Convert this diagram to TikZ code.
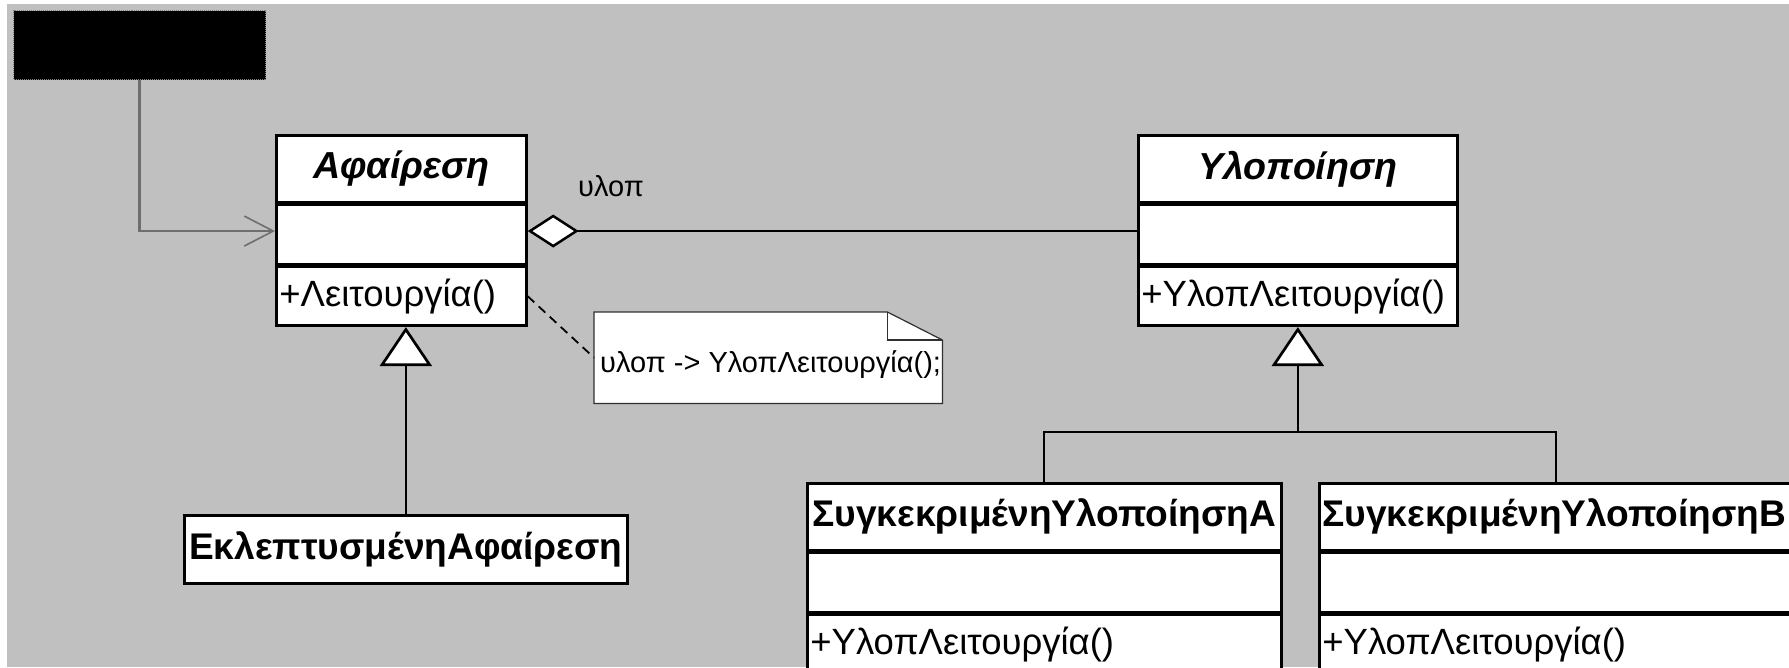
\documentclass[tikz,border=0pt]{standalone}
\usepackage{fontspec}
\setmainfont{Liberation Sans}
\usetikzlibrary{arrows.meta,calc}
\definecolor{canvasgray}{HTML}{C0C0C0}
\definecolor{clientgray}{HTML}{6E6E6E}
\definecolor{notegray}{HTML}{303030}

\tikzset{
  part/.style={draw=black, line width=2.7pt, fill=white, inner xsep=3pt, inner ysep=0pt,
    font=\fontsize{36.5}{43}\selectfont},
  namepart/.style={part, anchor=north west, minimum height=67pt,
    font=\fontsize{37.1}{45}\selectfont\bfseries},
  abstractname/.style={namepart, font=\fontsize{37.6}{45}\selectfont\bfseries\itshape},
  fieldpart/.style={part, anchor=north, minimum height=59pt},
  oppart/.style={part, anchor=north, minimum height=59pt, align=left, text width=#1},
  link/.style={draw=black, line width=2pt},
  genlink/.style={link, -{Triangle[length=39pt, width=52pt, fill=white, line width=2.7pt]}},
  aggrlink/.style={link, -{Diamond[length=51pt, width=33pt, fill=white, line width=2.5pt]}},
  clientlink/.style={draw=clientgray, line width=2.6pt,
    -{Straight Barb[length=29pt, width=30pt, line width=1.6pt]}},
  notelink/.style={draw=black, line width=1.8pt, dash pattern=on 9pt off 6pt},
  noteline/.style={draw=notegray, line width=1.2pt, fill=white},
  smalltext/.style={inner sep=0pt, anchor=base west, font=\fontsize{29}{35}\selectfont},
}

\begin{document}
\begin{tikzpicture}[x=1pt, y=-1pt]
  \useasboundingbox (0,0) rectangle (1789,667);
  % canvas
  \fill[white] (0,0) rectangle (1789,667);
  \fill[canvasgray] (7,4) rectangle (1789,667);

  % client (blacked out)
  \node[draw=gray, densely dotted, line width=1pt, fill=black, anchor=north west,
        minimum width=252pt, minimum height=69pt, inner sep=0pt] (client) at (13,10) {};

  % Abstraction
  \node[abstractname, minimum width=250pt] (absT) at (275,134) {Αφαίρεση};
  \node[fieldpart, minimum width=250pt] (absA) at (absT.south) {};
  \node[oppart=244pt, minimum width=250pt] (absO) at (absA.south) {+Λειτουργία()};

  % Implementor
  \node[abstractname, minimum width=319pt] (impT) at (1137,134) {Υλοποίηση};
  \node[fieldpart, minimum width=319pt] (impA) at (impT.south) {};
  \node[oppart=313pt, minimum width=319pt] (impO) at (impA.south) {+ΥλοπΛειτουργία()};

  % Refined abstraction
  \node[namepart, minimum width=443pt, minimum height=68pt] (ref) at (183,514) {ΕκλεπτυσμένηΑφαίρεση};

  % Concrete implementors
  \node[namepart, minimum width=474pt] (conAT) at (806,482) {ΣυγκεκριμένηΥλοποίησηA};
  \node[fieldpart, minimum width=474pt] (conAA) at (conAT.south) {};
  \node[oppart=468pt, minimum width=474pt] (conAO) at (conAA.south) {+ΥλοπΛειτουργία()};

  \node[namepart, minimum width=474pt, align=left, text width=468pt] (conBT) at (1318,482) {ΣυγκεκριμένηΥλοποίησηB};
  \node[fieldpart, minimum width=474pt] (conBA) at (conBT.south) {};
  \node[oppart=468pt, minimum width=474pt] (conBO) at (conBA.south) {+ΥλοπΛειτουργία()};

  % note with folded corner
  \node[anchor=north west, minimum width=348pt, minimum height=91pt, inner sep=0pt] (note) at (594,312) {};
  \draw[noteline] (note.north west) -- ($(note.north east)+(-55,0)$) -- ($(note.north east)+(0,28)$)
        -- (note.south east) -- (note.south west) -- cycle;
  \draw[noteline, fill=none] ($(note.north east)+(-55,0)$) -- ($(note.north east)+(-55,28)$)
        -- ($(note.north east)+(0,28)$);
  \coordinate (notebase) at (600,372);
  \node[smalltext] (notetext) at (notebase) {υλοπ -> ΥλοπΛειτουργία();};

  % client uses the abstraction
  \draw[clientlink] (client.south) |- ([yshift=3.5pt]absA.west);

  % aggregation with role name
  \draw[aggrlink] ([yshift=3.5pt]impA.west) -- ([yshift=3.5pt]absA.east);
  \node[smalltext] (role) at (578,196) {υλοπ};

  % note anchor
  \draw[notelink] (absO.east) -- (note.west);

  % generalisations
  \draw[genlink] (ref.north) -- (ref.north |- absO.south);
  \coordinate (bus) at ($(impO.south)+(0,105)$);
  \draw[genlink] (conAT.north) |- (bus) -- (impO.south);
  \draw[link] (conBT.north) |- (bus);
\end{tikzpicture}
\end{document}
